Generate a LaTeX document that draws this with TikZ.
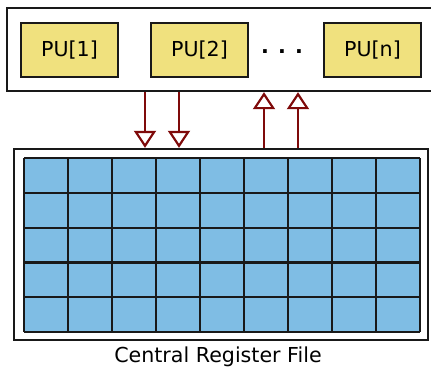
\documentclass[tikz,border=0pt]{standalone}
\usepackage{fontspec}
\setmainfont{DejaVu Sans}
\usetikzlibrary{arrows.meta}

\definecolor{puyellow}{HTML}{F0E17E}
\definecolor{regblue}{HTML}{7FBDE4}
\definecolor{busred}{HTML}{7F0A0A}

\begin{document}
\begin{tikzpicture}[x=1pt, y=-1pt, font=\fontsize{20.6}{24}\selectfont,
    panel/.style={draw=black!90, line width=2.4pt, fill=white, inner sep=0pt},
    pubox/.style={draw=black!90, line width=2.4pt, fill=puyellow, inner sep=0pt,
                  minimum width=97pt, minimum height=54pt},
    bus/.style={draw=busred, line width=2.2pt,
                -{Triangle[open, width=22pt, length=17pt]}}]

    % --- 1. 変数定義 ---
    \pgfmathsetmacro{\gx}{24}
    \pgfmathsetmacro{\gy}{158}
    \pgfmathsetmacro{\cw}{44}
    \pgfmathsetmacro{\ch}{34.8}

    \useasboundingbox (0,0) rectangle (431,369);

    % --- 2. 処理ユニット ---
    \node[panel, minimum width=430pt, minimum height=83pt] (pubar) at (222,49.5) {};
    \node[pubox] (pu1) at (69.5,50) {PU[1]};
    \node[pubox] (pu2) at (199.5,50) {PU[2]};
    \node[pubox] (pun) at (372.5,50) {PU[n]};
    \node[inner sep=0pt, font=\fontsize{20.6}{24}\selectfont\bfseries] (dots) at (282,52)
        {.\hspace{9.2pt}.\hspace{9.2pt}.};

    % --- 3. レジスタファイル ---
    \node[panel, minimum width=414pt, minimum height=191pt] (crf) at (221,244.5) {};
    \fill[regblue] (\gx,\gy) rectangle (\gx+9*\cw,\gy+5*\ch);
    \foreach \c in {0,1,...,9} {
        \draw[line width=2.2pt, black!90] (\gx+\c*\cw,\gy) -- (\gx+\c*\cw,\gy+5*\ch);
    }
    \foreach \r in {0,1,...,5} {
        \draw[line width=2.2pt, black!90] (\gx,\gy+\r*\ch) -- (\gx+9*\cw,\gy+\r*\ch);
    }
    \node (crflabel) at (218,357) {Central Register File};

    % --- 4. 読み出し・書き込みバス ---
    \foreach \bx in {145,179} {
        \draw[bus] (pubar.south -| \bx,0) -- (crf.north -| \bx,0);
    }
    \foreach \bx in {264,298} {
        \draw[bus] (crf.north -| \bx,0) -- (pubar.south -| \bx,0);
    }

\end{tikzpicture}
\end{document}
